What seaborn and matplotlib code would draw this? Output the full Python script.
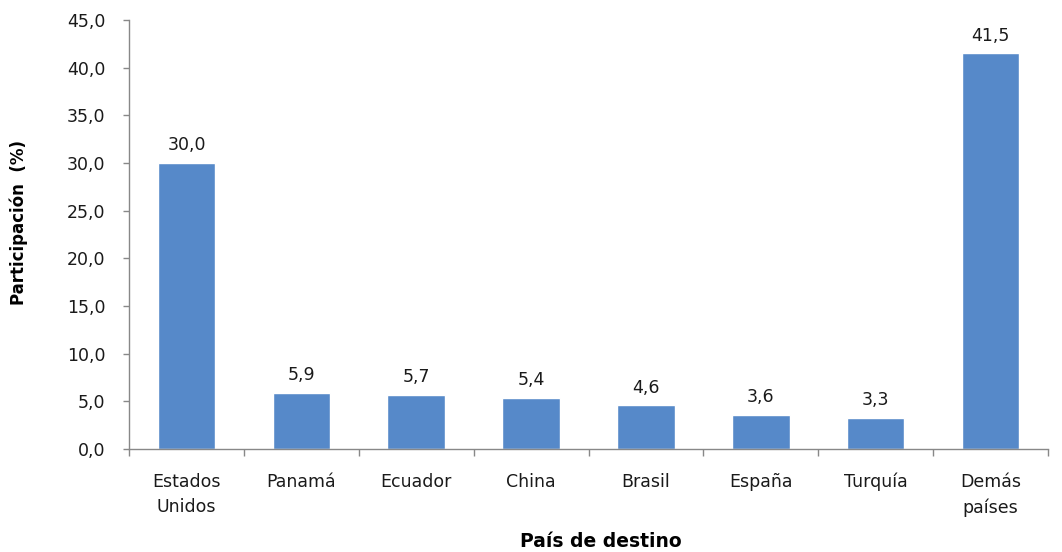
import matplotlib
matplotlib.use("Agg")
import matplotlib.pyplot as plt
import seaborn as sns
import pandas as pd
import numpy as np
from matplotlib.ticker import FixedLocator, FuncFormatter

categories = ["Estados\nUnidos", "Panamá", "Ecuador", "China", "Brasil", "España", "Turquía", "Demás\npaíses"]
values = [30.0, 5.9, 5.7, 5.4, 4.6, 3.6, 3.3, 41.5]
y_ticks = [0, 5, 10, 15, 20, 25, 30, 35, 40, 45]

sns.set_theme(style="white")
plt.rcParams['font.family'] = ['DejaVu Sans']

df = pd.DataFrame({"pais": categories, "valor": values})

fig = plt.figure(figsize=(10.62, 5.52), dpi=100)
ax = fig.add_axes([0.1215, 0.1866, 0.8653, 0.7772])

sns.barplot(data=df, x="pais", y="valor", color="#5689C9", width=0.5, ax=ax, saturation=1)

for i, v in enumerate(values):
    ax.text(i, v + 0.9, f"{v:.1f}".replace(".", ","), ha="center", va="bottom",
            fontsize=12.5, color="#1a1a1a")

ax.set_ylim(0, 45)
ax.set_xlim(-0.5, len(categories) - 0.5)
ax.set_yticks(y_ticks)
ax.yaxis.set_major_formatter(FuncFormatter(lambda v, p: f"{v:.1f}".replace(".", ",")))
ax.tick_params(axis="y", which="major", direction="out", length=4, width=1, color="#888888",
               labelsize=12.5, labelcolor="#1a1a1a", left=True, pad=13)
ax.tick_params(axis="x", which="major", length=0, labelsize=12.5, labelcolor="#1a1a1a", pad=17)
for lbl in ax.get_xticklabels():
    lbl.set_linespacing(1.55)
ax.xaxis.set_minor_locator(FixedLocator(np.arange(-0.5, len(categories), 1.0)))
ax.tick_params(axis="x", which="minor", direction="out", length=5, width=1, color="#888888", bottom=True)

for s in ["top", "right"]:
    ax.spines[s].set_visible(False)
for s in ["left", "bottom"]:
    ax.spines[s].set_color("#888888")
    ax.spines[s].set_linewidth(1)

ax.set_ylabel("Participación  (%)", fontsize=12, fontweight="bold", color="#000000")
ax.yaxis.label.set_va("center")
ax.yaxis.set_label_coords(-0.1195, 0.529)
ax.set_xlabel("País de destino", fontsize=13.5, fontweight="bold", color="#000000")
ax.xaxis.label.set_va("center")
ax.xaxis.set_label_coords(0.5136, -0.2145)

fig.savefig("out.png", dpi=100)
